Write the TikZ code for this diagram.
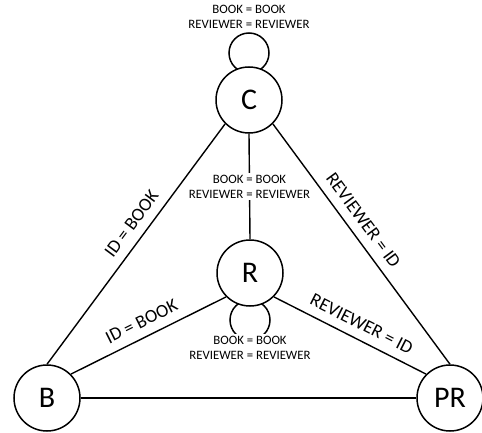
\documentclass[tikz,border=0pt]{standalone}
\usepackage{fontspec}
\setmainfont{Carlito}
\usetikzlibrary{backgrounds}
\begin{document}
\begin{tikzpicture}[x=1pt,y=1pt,
  ent/.style={circle,draw,line width=1.5pt,fill=white,minimum size=66pt,inner sep=0pt,
    font=\fontsize{30}{34}\selectfont},
  conn/.style={line width=1.4pt},
  lbl/.style={font=\fontsize{12.8}{15}\selectfont,align=center,inner sep=2pt},
  slbl/.style={font=\fontsize{18.5}{22}\selectfont,sloped,above=9pt,inner sep=0pt},
  loopc/.style={line width=1.5pt}]
\useasboundingbox (0,0) rectangle (482,432);
\node[ent] (C) at (249,332) {C};
\node[ent] (R) at (250,159) {R};
\node[ent] (B) at (47,34) {B};
\node[ent] (PR) at (450,34) {PR};
\begin{scope}[on background layer]
  \draw[loopc] (249,379) circle (20);
  \draw[loopc] (250,112) circle (20);
\end{scope}
\node[lbl] (toplbl) at (249,415.5) {BOOK = BOOK\\REVIEWER = REVIEWER};
\draw[conn] (C.south) -- (R.north) node[lbl,midway,fill=white] (midlbl) {BOOK = BOOK\\REVIEWER = REVIEWER};
\node[lbl,fill=white] (botlbl) at (250,84.5) {BOOK = BOOK\\REVIEWER = REVIEWER};
\draw[conn] (B.north) -- (C.225) node[slbl,pos=0.545] {ID = BOOK};
\draw[conn] (C.-45) -- (PR.north) node[slbl,pos=0.44] {REVIEWER = ID};
\draw[conn] (B.45) -- (R.225) node[slbl,pos=0.5] {ID = BOOK};
\draw[conn] (R.-45) -- (PR.135) node[slbl,pos=0.53] {REVIEWER = ID};
\draw[conn] (B.east) -- (PR.west);
\end{tikzpicture}
\end{document}
